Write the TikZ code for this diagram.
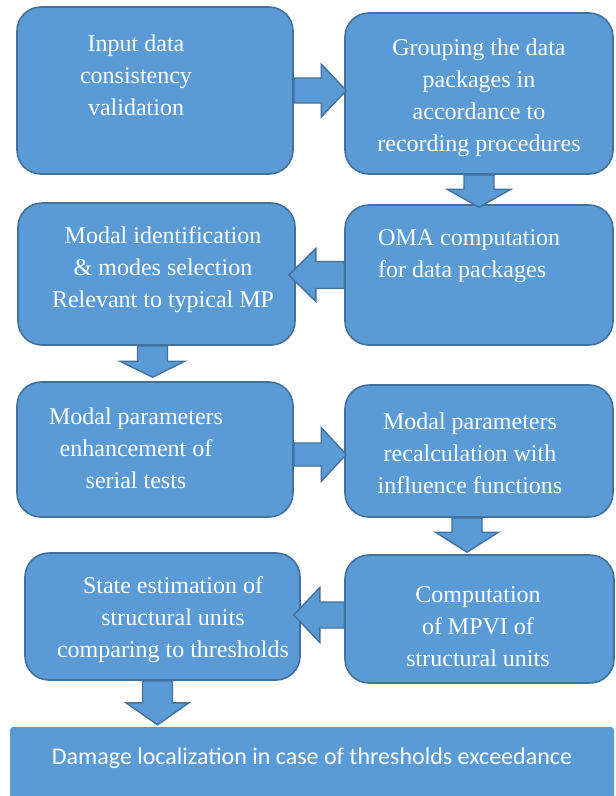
\documentclass[tikz,border=0pt]{standalone}
\usepackage{fontspec}
\setmainfont{Liberation Serif}
\newfontfamily\timesfont{Liberation Serif}
\newfontfamily\calibrifont{Carlito}
\usepackage{tikz}
\usetikzlibrary{
    calc
}
\usepackage{xcolor}
\definecolor{boxfill}{HTML}{5B9BD5}
\definecolor{boxline}{HTML}{41719C}

% from, to, shaft width, head width, head length
\newcommand\blockarrow[5]{%
    \path let \p1=(#1), \p2=(#2) in
        \pgfextra{%
            \pgfmathparse{atan2(\y2-\y1,\x2-\x1)}\xdef\baang{\pgfmathresult}%
            \pgfmathparse{veclen(\x2-\x1,\y2-\y1)}\xdef\balen{\pgfmathresult}%
            \xdef\bax{\x1}\xdef\bay{\y1}};
    \draw[arrowbox,shift={(\bax,\bay)},rotate=\baang]
        (0,-#3/2) -- (\balen-#5,-#3/2) -- (\balen-#5,-#4/2) -- (\balen,0)
        -- (\balen-#5,#4/2) -- (\balen-#5,#3/2) -- (0,#3/2) -- cycle;
}

\begin{document}
\begin{tikzpicture}[
        x=1pt, y=-1pt,
        box/.style={
            draw=boxline,
            fill=boxfill,
            line width=1.6pt,
            rounded corners=24pt,
            inner sep=0pt
        },
        boxtext/.style={
            text=white,
            align=center,
            inner sep=0pt,
            font=\timesfont\fontsize{24}{32}\selectfont
        },
        arrowbox/.style={
            draw=boxline,
            fill=boxfill,
            line width=1.4pt,
            line join=miter
        }
    ]
        \useasboundingbox (0,0) rectangle (616,796);

        \node[box, minimum width=276pt, minimum height=167pt] (inp) at (155,90.5) {};
        \node[box, minimum width=268pt, minimum height=161pt] (grp) at (479,93.5) {};
        \node[box, minimum width=268pt, minimum height=140pt] (oma) at (479,275) {};
        \node[box, minimum width=277pt, minimum height=142pt] (ident) at (156.5,274) {};
        \node[box, minimum width=276pt, minimum height=135pt] (enh) at (155,449.5) {};
        \node[box, minimum width=268pt, minimum height=132pt] (recalc) at (479,451) {};
        \node[box, minimum width=269pt, minimum height=128pt] (mpvi) at (479.5,619) {};
        \node[box, minimum width=275pt, minimum height=127pt] (state) at (162.5,616.5) {};
        \node[fill=boxfill, rounded corners=3pt, minimum width=604pt, minimum height=74pt] (dmg) at (312,764) {};

        \node[boxtext] (inptext) at (136,75) {Input data\\consistency\\validation};
        \node[boxtext] (grptext) at (479,98) {Grouping the data\\packages in\\accordance to\\recording procedures};
        \node[boxtext, align=left, anchor=west] (omatext) at (378,256.5) {OMA computation\\for data packages};
        \node[boxtext] (identtext) at (163,270) {Modal identification\\\& modes selection\\Relevant to typical MP};
        \node[boxtext] (enhtext) at (136,448) {Modal parameters\\enhancement of\\serial tests};
        \node[boxtext] (recalctext) at (470,453) {Modal parameters\\recalculation with\\influence functions};
        \node[boxtext] (mpvitext) at (478,627) {Computation\\of MPVI of\\structural units};
        \node[boxtext] (statetext) at (173,620) {State estimation of\\structural units\\comparing to thresholds};
        \node[boxtext, font=\calibrifont\fontsize{24}{32}\selectfont] (dmgtext) at (312,758) {Damage localization in case of thresholds exceedance};

        \blockarrow{inp.east}{$(inp.east -| grp.west)+(2,0)$}{25}{53}{25}
        \blockarrow{grp.south}{$(grp.south |- oma.north)+(0,3)$}{30}{64}{18}
        \blockarrow{oma.west}{$(oma.west -| ident.east)+(-7,0)$}{27}{53}{27}
        \blockarrow{$(ident.south)+(-4,0)$}{$(ident.south |- enh.north)+(-4,-4)$}{30}{65}{16}
        \blockarrow{$(enh.east)+(0,5)$}{$(enh.east -| recalc.west)+(2,5)$}{23}{54}{25}
        \blockarrow{$(recalc.south)+(-12,0)$}{$(recalc.south |- mpvi.north)+(-12,-2)$}{30}{63}{20}
        \blockarrow{$(mpvi.west)+(0,-4)$}{$(mpvi.west -| state.east)+(-7,-4)$}{26}{55}{26}
        \blockarrow{$(state.south)+(-5,0)$}{$(state.south |- dmg.north)+(-5,-2)$}{30}{63}{22}
    \end{tikzpicture}
\end{document}
